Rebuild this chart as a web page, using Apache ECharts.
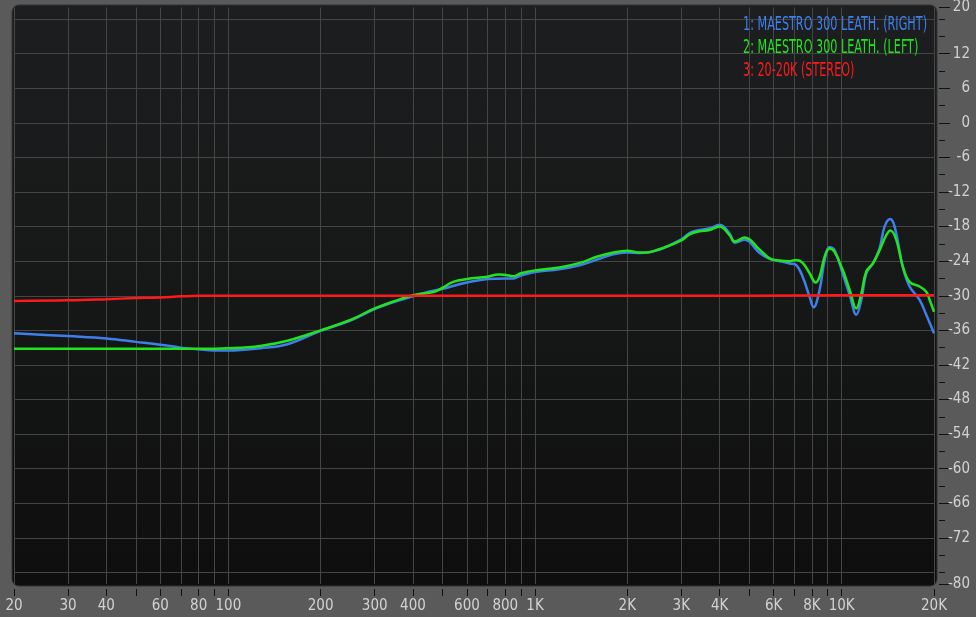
<!DOCTYPE html>
<html>
<head>
<meta charset="utf-8">
<script src="https://cdn.jsdelivr.net/npm/echarts@6/dist/echarts.min.js"></script>
<style>
  html, body { margin: 0; padding: 0; background: #5a5a5a; }
  #chart { width: 976px; height: 617px; }
</style>
</head>
<body>
<div id="chart"></div>
<script>
// measured response curves, frequency in Hz and level in dB
const blueFreq = [20, 30, 40, 50, 60, 70, 80, 90, 100, 127, 156, 200, 250, 300, 350, 400, 450, 500, 541, 600, 700, 800, 850, 900, 1000, 1200, 1400, 1600, 1800, 2000, 2200, 2550, 3000, 3200, 3440, 3710, 4000, 4310, 4480, 4830, 5400, 5820, 6280, 6760, 7110, 7460, 7860, 8100, 8470, 8800, 9130, 9480, 10070, 10620, 11160, 11590, 12030, 12640, 13290, 13800, 14400, 14880, 15830, 16650, 17950, 18870, 20000];
const blueDb = [-36.5, -37.0, -37.4, -38.0, -38.5, -39.0, -39.3, -39.5, -39.5, -39.1, -38.4, -36.1, -34.3, -32.3, -31.0, -30.1, -29.3, -28.8, -28.3, -27.7, -27.1, -27.0, -27.0, -26.5, -25.9, -25.4, -24.7, -23.7, -22.8, -22.5, -22.6, -22.0, -20.2, -19.1, -18.6, -18.3, -17.7, -19.2, -20.8, -20.3, -22.6, -23.6, -24.0, -24.4, -24.7, -26.7, -30.2, -32.0, -29.0, -23.8, -21.6, -22.1, -26.1, -29.9, -33.3, -30.7, -26.1, -24.4, -21.8, -18.0, -16.7, -18.0, -25.0, -28.4, -30.7, -33.3, -36.5];

const greenFreq = [20, 40, 60, 80, 100, 127, 156, 200, 250, 300, 350, 400, 470, 500, 541, 600, 700, 760, 800, 850, 900, 1000, 1200, 1400, 1600, 1800, 2000, 2200, 2300, 2550, 3000, 3200, 3440, 3710, 4000, 4310, 4480, 4830, 5400, 5820, 6280, 6760, 7110, 7460, 7860, 8220, 8470, 8800, 9130, 9480, 10070, 10620, 11160, 11590, 12030, 12640, 13290, 13980, 14410, 15070, 15830, 16650, 17950, 18870, 19350, 20000];
const greenDb = [-39.2, -39.2, -39.2, -39.2, -39.1, -38.7, -37.8, -36.0, -34.2, -32.2, -30.9, -29.9, -29.3, -28.6, -27.6, -27.1, -26.7, -26.3, -26.4, -26.6, -26.1, -25.6, -25.1, -24.3, -23.2, -22.5, -22.2, -22.5, -22.5, -21.9, -20.4, -19.3, -18.8, -18.6, -18.0, -19.5, -20.6, -19.9, -22.0, -23.5, -23.9, -24.0, -23.8, -24.3, -26.1, -27.7, -26.7, -23.2, -21.8, -22.4, -25.5, -29.0, -32.2, -29.6, -25.8, -24.4, -22.1, -19.5, -18.7, -20.3, -25.0, -27.6, -28.4, -29.3, -30.7, -32.8];

const redFreq = [20, 30, 40, 50, 60, 70, 80, 100, 200, 1000, 5000, 10000, 20000];
const redDb = [-30.9, -30.8, -30.6, -30.4, -30.3, -30.1, -30.0, -30.0, -30.0, -30.0, -30.0, -29.9, -29.9];

const seriesNames = ['1: MAESTRO 300 LEATH. (RIGHT)', '2: MAESTRO 300 LEATH. (LEFT)', '3: 20-20K (STEREO)'];
const seriesColors = ['#3f7fec', '#22e41e', '#ff1a1a'];

// axis ticks
const xLabelFreqs = [20, 30, 40, 60, 80, 100, 200, 300, 400, 600, 800, 1000, 2000, 3000, 4000, 6000, 8000, 10000, 20000];
const xGridFreqs = [20, 30, 40, 50, 60, 70, 80, 90, 100, 200, 300, 400, 500, 600, 700, 800, 900, 1000, 2000, 3000, 4000, 5000, 6000, 7000, 8000, 9000, 10000, 20000];
const yLabelTicks = [20, 12, 6, 0, -6, -12, -18, -24, -30, -36, -42, -48, -54, -60, -66, -72, -80];
const yMinorTicks = [18, 15, 9, 3, -3, -9, -15, -21, -27, -33, -39, -45, -51, -57, -63, -69, -75, -78];
const yGridTicks = [18, 12, 6, 0, -6, -12, -18, -24, -30, -36, -42, -48, -54, -60, -66, -72, -78];

const FONT = '"Liberation Sans Narrow", "DejaVu Sans Condensed", "Roboto", sans-serif';
const lg = f => Math.log10(f);
const toPairs = (fs, ds) => fs.map((f, i) => [lg(f), ds[i]]);

// legend text is a condensed face; squeeze whatever font we get to the same width
const LEG_SIZE = 20;
const ctx = document.createElement('canvas').getContext('2d');
ctx.font = LEG_SIZE + 'px ' + FONT;
const legScale = Math.min(1, 184 / ctx.measureText(seriesNames[0]).width);

const chart = echarts.init(document.getElementById('chart'));

const yBase = { type: 'value', min: -80, max: 20, position: 'right', offset: 5,
  axisLine: { show: false }, axisLabel: { show: false }, splitLine: { show: false } };

chart.setOption({
  animation: false,
  backgroundColor: '#5a5a5a',
  graphic: [{
    type: 'rect', z: -1,
    shape: { x: 12, y: 5, width: 925, height: 581, r: 7 },
    style: {
      fill: new echarts.graphic.LinearGradient(0, 0, 0, 1, [
        { offset: 0, color: '#1d1e1f' },
        { offset: 0.5, color: '#161717' },
        { offset: 1, color: '#0e0e0e' }
      ]),
      stroke: '#333', lineWidth: 1
    }
  }].concat(seriesNames.map((n, i) => ({
    type: 'text', x: 743, y: 25 + i * 23, scaleX: legScale, z: 10,
    style: { text: n, x: 0, y: 0, fill: seriesColors[i], font: LEG_SIZE + 'px ' + FONT, verticalAlign: 'middle', align: 'left' }
  }))),
  grid: { left: 14, right: 42, top: 7, bottom: 33 },
  xAxis: {
    type: 'value', min: lg(20), max: lg(20000), offset: 5,
    axisLine: { show: false, onZero: false },
    axisTick: { length: 7, customValues: xGridFreqs.map(lg), lineStyle: { color: '#111', width: 1 } },
    axisLabel: {
      customValues: xLabelFreqs.map(lg), margin: 10,
      color: '#d2d2d2', fontFamily: FONT, fontSize: 15,
      formatter: v => { const f = Math.round(Math.pow(10, v)); return f >= 1000 ? (f / 1000) + 'K' : String(f); }
    },
    splitLine: { show: true, lineStyle: { color: '#454545', width: 1 } }
  },
  yAxis: [
    Object.assign({}, yBase, {
      axisTick: { length: 11, customValues: yLabelTicks, lineStyle: { color: '#111', width: 1 } },
      axisLabel: { show: true, customValues: yLabelTicks, align: 'right', margin: 31,
        color: '#d2d2d2', fontFamily: FONT, fontSize: 15 }
    }),
    Object.assign({}, yBase, {
      axisTick: { length: 6, customValues: yMinorTicks, lineStyle: { color: '#111', width: 1 } }
    }),
    Object.assign({}, yBase, {
      axisTick: { show: false, customValues: yGridTicks },
      splitLine: { show: true, lineStyle: { color: '#454545', width: 1 } }
    })
  ],
  series: [
    { name: seriesNames[0], type: 'line', data: toPairs(blueFreq, blueDb) },
    { name: seriesNames[1], type: 'line', data: toPairs(greenFreq, greenDb) },
    { name: seriesNames[2], type: 'line', data: toPairs(redFreq, redDb) }
  ].map((s, i) => Object.assign(s, {
    yAxisIndex: 0, smooth: 0.4, symbol: 'none', silent: true,
    lineStyle: { color: seriesColors[i], width: 2.5 },
    itemStyle: { color: seriesColors[i] }
  }))
});
</script>
</body>
</html>
